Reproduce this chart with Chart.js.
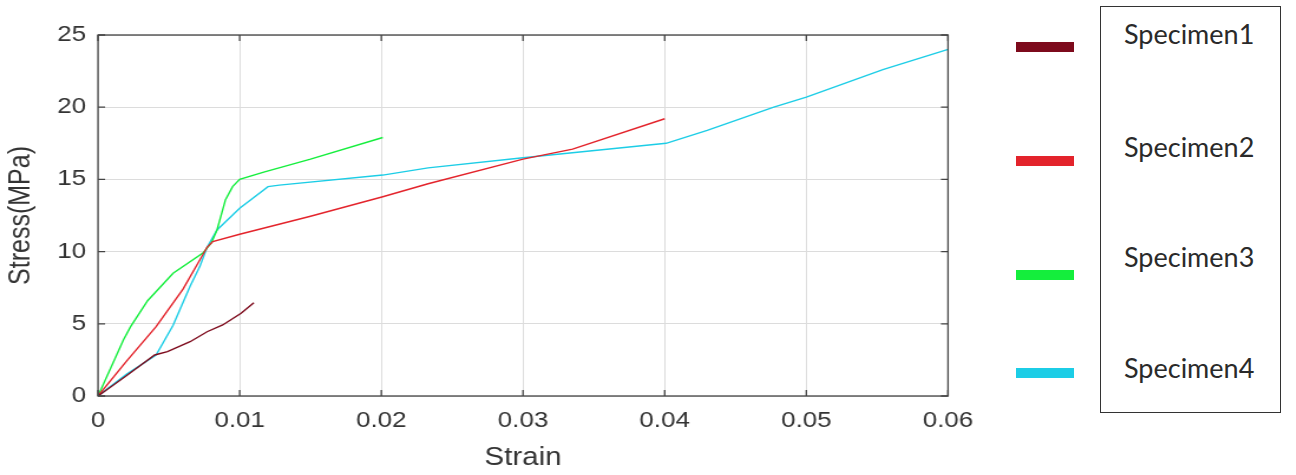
<!DOCTYPE html>
<html>
<head>
<meta charset="utf-8">
<script src="https://cdn.jsdelivr.net/npm/chart.js@4"></script>
<style>
  html, body { margin: 0; padding: 0; background: #fff; }
  body { width: 1296px; height: 475px; position: relative; overflow: hidden; }
  /* the reference figure is stretched horizontally, so the chart is too */
  #plotWrap { position: absolute; left: 0; top: 0; width: 840px; height: 475px;
              transform: scaleX(1.18); transform-origin: 0 0; }
  #legendBars { position: absolute; left: 1016px; top: 0; }
  .bar { position: absolute; left: 0; width: 58px; height: 10px; }
  #legendBox { position: absolute; left: 1100px; top: 6px; width: 181px; height: 407px;
               border: 1.5px solid #333; box-sizing: border-box; }
  .lbl { position: absolute; left: 23px; font-family: Lato, "Open Sans", sans-serif;
         font-size: 27px; color: #2a2a2a; line-height: 1; }
</style>
</head>
<body>
<div id="plotWrap"><canvas id="stressChart"></canvas></div>
<div id="legendBars"></div>
<div id="legendBox"></div>
<script>
// Stress-strain curves
const xTicks = [0, 0.01, 0.02, 0.03, 0.04, 0.05, 0.06];
const yTicks = [0, 5, 10, 15, 20, 25];

const names = ['Specimen1', 'Specimen2', 'Specimen3', 'Specimen4'];
const colors = ['#7d0a1c', '#e3232b', '#14ee3c', '#1ccde6'];

const strain1 = [0, 0.002, 0.0040, 0.0049, 0.0065, 0.0077, 0.0088, 0.0101, 0.011];
const stress1 = [0, 1.4, 2.84, 3.07, 3.76, 4.45, 4.92, 5.73, 6.46];

const strain2 = [0, 0.002, 0.0041, 0.006, 0.0077, 0.0081, 0.010, 0.015, 0.0201, 0.0233, 0.030, 0.0335, 0.040];
const stress2 = [0, 2.4, 4.8, 7.4, 10.3, 10.7, 11.2, 12.45, 13.8, 14.7, 16.4, 17.1, 19.2];

const strain3 = [0, 0.0018, 0.0023, 0.0035, 0.0053, 0.0074, 0.008, 0.0084, 0.009, 0.0095, 0.010, 0.0117, 0.015, 0.0201];
const stress3 = [0, 3.9, 4.8, 6.6, 8.5, 9.9, 10.6, 11.5, 13.6, 14.5, 15.0, 15.5, 16.4, 17.9];

const strain4 = [0, 0.002, 0.0041, 0.0053, 0.0065, 0.0072, 0.0077, 0.0084, 0.010, 0.012, 0.0128, 0.0201, 0.0233, 0.030, 0.0401, 0.043, 0.0477, 0.050, 0.0554, 0.060];
const stress4 = [0, 1.5, 2.84, 4.9, 7.6, 9.0, 10.3, 11.5, 13.0, 14.5, 14.6, 15.3, 15.8, 16.5, 17.5, 18.4, 20.0, 20.7, 22.6, 24.0];

const strains = [strain1, strain2, strain3, strain4];
const stresses = [stress1, stress2, stress3, stress4];

// box around plot area with inward tick marks
const boxPlugin = {
    id: 'box',
    afterDraw(chart) {
        const { ctx, chartArea: a, scales } = chart;
        ctx.save();
        ctx.strokeStyle = '#444';
        ctx.lineWidth = 1.3;
        ctx.strokeRect(a.left, a.top, a.right - a.left, a.bottom - a.top);
        ctx.beginPath();
        xTicks.forEach(v => {
            const px = scales.x.getPixelForValue(v);
            ctx.moveTo(px, a.bottom); ctx.lineTo(px, a.bottom - 6);
            ctx.moveTo(px, a.top); ctx.lineTo(px, a.top + 6);
        });
        yTicks.forEach(v => {
            const py = scales.y.getPixelForValue(v);
            ctx.moveTo(a.left, py); ctx.lineTo(a.left + 6, py);
            ctx.moveTo(a.right, py); ctx.lineTo(a.right - 6, py);
        });
        ctx.stroke();
        ctx.restore();
    }
};

document.addEventListener('DOMContentLoaded', () => {
    const ctx = document.getElementById('stressChart').getContext('2d');
    const chart = new Chart(ctx, {
        type: 'scatter',
        data: {
            datasets: names.map((name, i) => ({
                label: name,
                data: strains[i].map((x, j) => ({ x: x, y: stresses[i][j] })),
                borderColor: colors[i],
                backgroundColor: colors[i],
                showLine: true,
                borderWidth: 1.4,
                pointRadius: 0,
                tension: 0
            }))
        },
        options: {
            responsive: true,
            maintainAspectRatio: false,
            animation: false,
            layout: { padding: { left: 0, top: 35, right: 36.6, bottom: 0 } },
            plugins: {
                legend: { display: false },
                tooltip: { enabled: false }
            },
            scales: {
                x: {
                    type: 'linear',
                    min: 0,
                    max: 0.06,
                    afterFit: s => { s.height = 79; },
                    afterBuildTicks: s => { s.ticks = xTicks.map(v => ({ value: v })); },
                    ticks: {
                        padding: 12,
                        color: '#333',
                        font: { family: 'Liberation Sans, Arial', size: 22 },
                        callback: v => String(v)
                    },
                    grid: { color: '#dcdcdc', lineWidth: 1, drawTicks: false },
                    border: { display: false },
                    title: {
                        display: true,
                        text: 'Strain',
                        color: '#333',
                        font: { family: 'Liberation Sans, Arial', size: 25 },
                        padding: { top: 0, bottom: 2 }
                    }
                },
                y: {
                    min: 0,
                    max: 25,
                    afterFit: s => { s.width = 83.05; },
                    afterBuildTicks: s => { s.ticks = yTicks.map(v => ({ value: v })); },
                    ticks: {
                        padding: 10,
                        color: '#333',
                        font: { family: 'Liberation Sans, Arial', size: 22 }
                    },
                    grid: { color: '#dcdcdc', lineWidth: 1, drawTicks: false },
                    border: { display: false },
                    title: {
                        display: true,
                        text: 'Stress(MPa)',
                        color: '#333',
                        font: { family: 'Liberation Sans, Arial', size: 25 },
                        padding: { top: 3.6, bottom: 0 }
                    }
                }
            }
        },
        plugins: [boxPlugin]
    });

    // legend outside the stretched plot, built from the chart's datasets
    const barTops = [42, 156, 270, 368];
    const textTops = [13, 126, 236, 347];
    const bars = document.getElementById('legendBars');
    const box = document.getElementById('legendBox');
    chart.data.datasets.forEach((ds, i) => {
        const b = document.createElement('div');
        b.className = 'bar';
        b.style.top = barTops[i] + 'px';
        b.style.background = ds.borderColor;
        bars.appendChild(b);
        const t = document.createElement('div');
        t.className = 'lbl';
        t.style.top = textTops[i] + 'px';
        t.textContent = ds.label;
        box.appendChild(t);
    });
});
</script>
</body>
</html>
